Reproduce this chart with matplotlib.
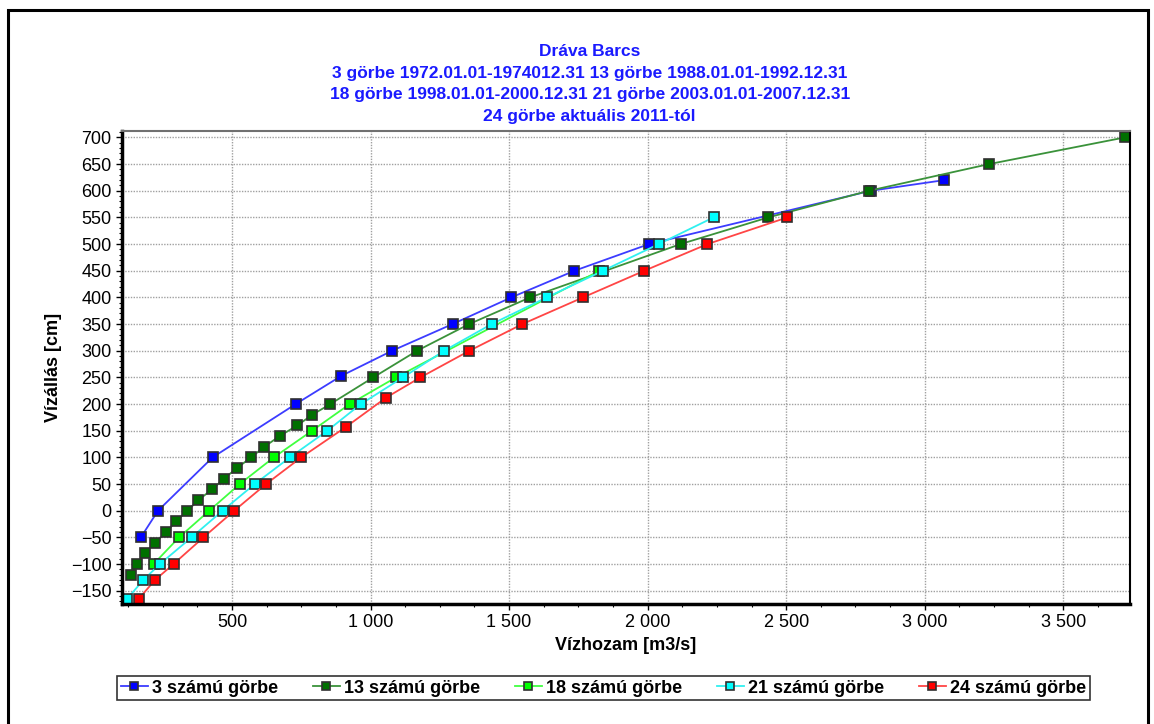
import numpy as np
import matplotlib.pyplot as plt
from matplotlib.ticker import MultipleLocator, FuncFormatter
from matplotlib.patches import Rectangle

plt.rcParams['font.family'] = ['Liberation Sans', 'DejaVu Sans']

# vízállás [cm] / vízhozam [m3/s] pontok görbénként
h3 = [-50, 0, 100, 200, 253, 300, 350, 400, 450, 500, 600, 620]
q3 = [171, 233, 430, 730, 895, 1078, 1296, 1508, 1736, 2005, 2805, 3071]

h13 = [-120, -100, -80, -60, -40, -20, 0, 20, 40, 60, 80, 100, 120, 140, 160, 180, 200,
       250, 300, 350, 400, 500, 550, 600, 650, 700]
q13 = [135, 157, 186, 222, 263, 298, 339, 379, 428, 471, 518, 569, 617, 672, 736, 790, 855,
       1010, 1168, 1356, 1576, 2119, 2435, 2799, 3232, 3722]

h18 = [-100, -50, 0, 50, 100, 150, 200, 250, 450]
q18 = [217, 309, 418, 528, 651, 789, 925, 1092, 1826]

h21 = [-165, -130, -100, -50, 0, 50, 100, 150, 200, 250, 300, 350, 400, 450, 500, 550]
q21 = [122, 180, 240, 354, 466, 582, 709, 844, 965, 1117, 1266, 1437, 1636, 1839, 2040, 2238]

h24 = [-165, -130, -100, -50, 0, 50, 100, 157, 212, 250, 300, 350, 400, 450, 500, 550]
q24 = [164, 222, 289, 397, 508, 623, 750, 911, 1056, 1180, 1357, 1548, 1767, 1988, 2216, 2504]

series = [
    ("3 számú görbe", q3, h3, "#0000ff", "#3c3cff"),
    ("13 számú görbe", q13, h13, "#007000", "#3a923a"),
    ("18 számú görbe", q18, h18, "#00ff00", "#40ff40"),
    ("21 számú görbe", q21, h21, "#00ffff", "#30f0f0"),
    ("24 számú görbe", q24, h24, "#ff0000", "#ff4545"),
]

title_lines = [
    "Dráva Barcs",
    "3 görbe 1972.01.01-1974012.31 13 görbe 1988.01.01-1992.12.31",
    "18 görbe 1998.01.01-2000.12.31 21 görbe 2003.01.01-2007.12.31",
    "24 görbe aktuális 2011-tól",
]

fig = plt.figure(figsize=(11.54, 7.24), dpi=100)
ax = fig.add_axes([0.1057, 0.1657, 0.8733, 0.6533])

for label, q, h, mc, lc in series:
    ax.plot(q, h, color=lc, lw=1.3, marker="s", markersize=7,
            markerfacecolor=mc, markeredgecolor="#303030", markeredgewidth=1.2,
            label=label)

ax.set_xlim(103, 3740)
ax.set_ylim(-175, 712)
ax.xaxis.set_major_locator(MultipleLocator(500))
ax.xaxis.set_minor_locator(MultipleLocator(125))
ax.yaxis.set_major_locator(MultipleLocator(50))
ax.yaxis.set_minor_locator(MultipleLocator(10))
ax.xaxis.set_major_formatter(FuncFormatter(lambda v, p: f"{v:,.0f}".replace(",", " ")))
ax.tick_params(labelsize=13, length=4, width=1, direction="out")
ax.tick_params(which="minor", length=2.5, width=0.8)
ax.grid(True, which="major", color="#a0a0a0", linestyle=(0, (1, 1)), lw=1)

for side in ["left", "bottom"]:
    ax.spines[side].set_linewidth(2.5)
ax.spines["top"].set_color("#707070")
ax.spines["top"].set_linewidth(1.5)
ax.spines["right"].set_linewidth(1.5)

ax.set_xlabel("Vízhozam [m3/s]", fontsize=13, fontweight="bold", labelpad=4)
ax.set_ylabel("Vízállás [cm]", fontsize=13, fontweight="bold", labelpad=6)

for i, t in enumerate(title_lines):
    fig.text(0.511, 1 - (52 + i * 21.5) / 724, t, ha="center", va="center",
             fontsize=12.5, fontweight="bold", color="#1a1aff")

leg = ax.legend(loc="upper left", bbox_to_anchor=(117 / 1154, 1 - 676 / 724),
                bbox_transform=fig.transFigure,
                ncol=5, frameon=True, fancybox=False, edgecolor="black",
                handlelength=1.5, handletextpad=0.25, columnspacing=1.9, borderpad=0.2,
                borderaxespad=0, markerscale=0.75, prop={"weight": "bold", "size": 13})
leg.get_frame().set_linewidth(1.2)

fig.patches.append(Rectangle((8 / 1154, -0.02), 1140 / 1154, 1 - 10 / 724 + 0.02,
                             transform=fig.transFigure, fill=False, lw=2.2, edgecolor="black"))

fig.savefig("out.png", dpi=100)
